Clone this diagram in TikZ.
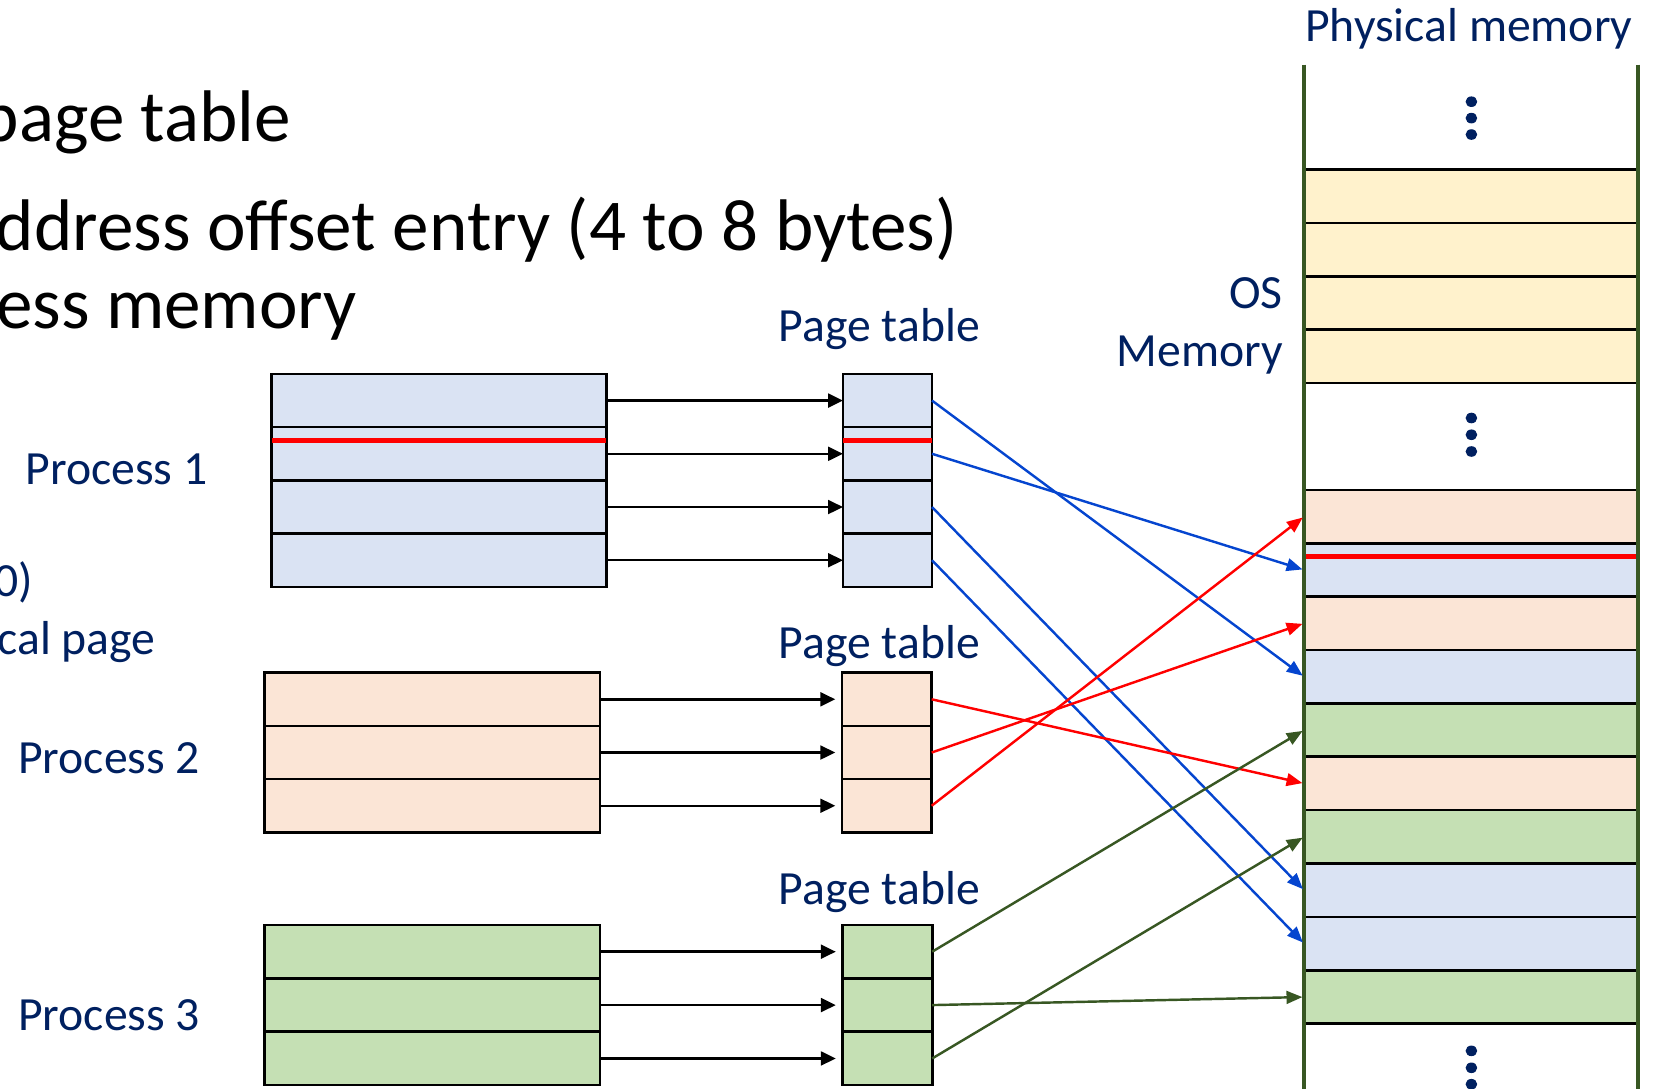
\documentclass[tikz,border=0pt]{standalone}
\usepackage{fontspec}
\setmainfont{Carlito}
\usetikzlibrary{arrows.meta}
\definecolor{navy}{HTML}{002060}
\definecolor{bfill}{HTML}{DAE3F3}
\definecolor{ofill}{HTML}{FBE5D6}
\definecolor{gfill}{HTML}{C5E0B4}
\definecolor{yfill}{HTML}{FFF2CC}
\definecolor{bline}{HTML}{0545CF}
\definecolor{gline}{HTML}{385723}
\definecolor{rline}{HTML}{FF0000}
\tikzset{
  cell/.style={draw=black, line width=2.5pt, inner sep=0pt, outer sep=0pt, anchor=north west},
  lbl/.style={text=navy, font=\fontsize{45}{52}\selectfont, inner sep=0pt, anchor=base west},
  lble/.style={lbl, anchor=base east},
  big/.style={text=black, font=\fontsize{69}{80}\selectfont, inner sep=0pt, anchor=base east},
  feed/.style={-{Triangle[length=14pt,width=13pt]}, line width=2.3pt, black},
  map/.style={-{Triangle[length=15pt,width=12pt]}, line width=2.3pt, shorten >=1.5pt},
  hl/.style={rline, line width=4.5pt},
  dotm/.style={navy}
}
\begin{document}
\begin{tikzpicture}[x=1pt,y=-1pt]
\useasboundingbox (0,0) rectangle (1568,1028);
\clip (0,0) rectangle (1568,1028);

% big black text (cut at the left edge)
\node[big] (t1) at (275,134) {page table};
\node[big] (t2) at (904,236) {ddress offset entry (4 to 8 bytes)};
\node[big] (t3) at (337,310) {ess memory};

% navy labels
\node[lbl] (lp1) at (24,457) {Process 1};
\node[lbl] (lp2) at (17,730) {Process 2};
\node[lbl] (lp3) at (17,972.5) {Process 3};
\node[lble] (lz) at (31,563) {0)};
\node[lble] (lc) at (147,618) {cal page};
\node[lbl] (pt1) at (735,322) {Page table};
\node[lbl] (pt2) at (735,621.5) {Page table};
\node[lbl] (pt3) at (735,854) {Page table};
\node[lble] (los) at (1211,291) {OS};
\node[lble] (lmem) at (1211,346) {Memory};
\node[lbl] (lphys) at (1232,39) {Physical memory};

% process 1 and its page table
\foreach \i in {1,...,4} {
  \node[cell, fill=bfill, minimum width=316pt, minimum height=50.25pt] (p1r\i) at (256.5,{353+(\i-1)*50.25}) {};
  \node[cell, fill=bfill, minimum width=84pt, minimum height=50.25pt] (t1r\i) at (795.8,{353+(\i-1)*50.25}) {};
}
\draw[hl] ([yshift=-12.5pt]p1r2.north west) -- ([yshift=-12.5pt]p1r2.north east);
\draw[hl] ([yshift=-12.5pt]t1r2.north west) -- ([yshift=-12.5pt]t1r2.north east);

% process 2 and its page table
\foreach \i in {1,...,3} {
  \node[cell, fill=ofill, minimum width=317pt, minimum height=50.25pt] (p2r\i) at (249.5,{635+(\i-1)*50.25}) {};
  \node[cell, fill=ofill, minimum width=84.5pt, minimum height=50.25pt] (t2r\i) at (795,{635+(\i-1)*50.25}) {};
}

% process 3 and its page table
\foreach \i in {1,...,3} {
  \node[cell, fill=gfill, minimum width=317pt, minimum height=50.4pt] (p3r\i) at (249.5,{873.2+(\i-1)*50.4}) {};
  \node[cell, fill=gfill, minimum width=84.5pt, minimum height=50.4pt] (t3r\i) at (795.5,{873.2+(\i-1)*50.4}) {};
}

% physical memory
\foreach \i in {1,...,4}
  \node[cell, fill=yfill, minimum width=315pt, minimum height=50.4pt] (m\i) at (1231,{160+(\i-1)*50.4}) {};
\foreach \i/\c in {5/ofill,6/bfill,7/ofill,8/bfill,9/gfill,10/ofill,11/gfill,12/bfill,13/bfill,14/gfill}
  \node[cell, fill=\c, minimum width=315pt, minimum height=50.4pt] (m\i) at (1231,{462.4+(\i-5)*50.4}) {};
\draw[hl] ([yshift=-12.2pt]m6.north west) -- ([yshift=-12.2pt]m6.north east);
\draw[gline, line width=3.5pt] (1231,61) -- (1231,1040);
\draw[gline, line width=3.5pt] (1546,61) -- (1546,1040);
\foreach \y in {96,111.5,127,394.6,410.4,426.2,992,1008,1023.5}
  \fill[dotm] (1389,\y) ellipse (5.5 and 5);

% process -> page table arrows
\foreach \i in {1,...,4} \draw[feed] (p1r\i.east) -- (t1r\i.west);
\foreach \i in {1,...,3} {
  \draw[feed, shorten >=6.5pt] (p2r\i.east) -- (t2r\i.west);
  \draw[feed, shorten >=6.5pt] (p3r\i.east) -- (t3r\i.west);
}

% page table -> physical memory
\draw[map, bline] (t1r1.east) -- (m8.west);
\draw[map, bline] (t1r2.east) -- (m6.west);
\draw[map, bline] (t1r3.east) -- (m12.west);
\draw[map, bline] (t1r4.east) -- (m13.west);
\draw[map, rline] (t2r1.east) -- (m10.west);
\draw[map, rline] (t2r2.east) -- (m7.west);
\draw[map, rline] (t2r3.east) -- (m5.west);
\draw[map, gline] (t3r1.east) -- (m9.west);
\draw[map, gline] (t3r2.east) -- (m14.west);
\draw[map, gline] (t3r3.east) -- (m11.west);
\end{tikzpicture}
\end{document}
